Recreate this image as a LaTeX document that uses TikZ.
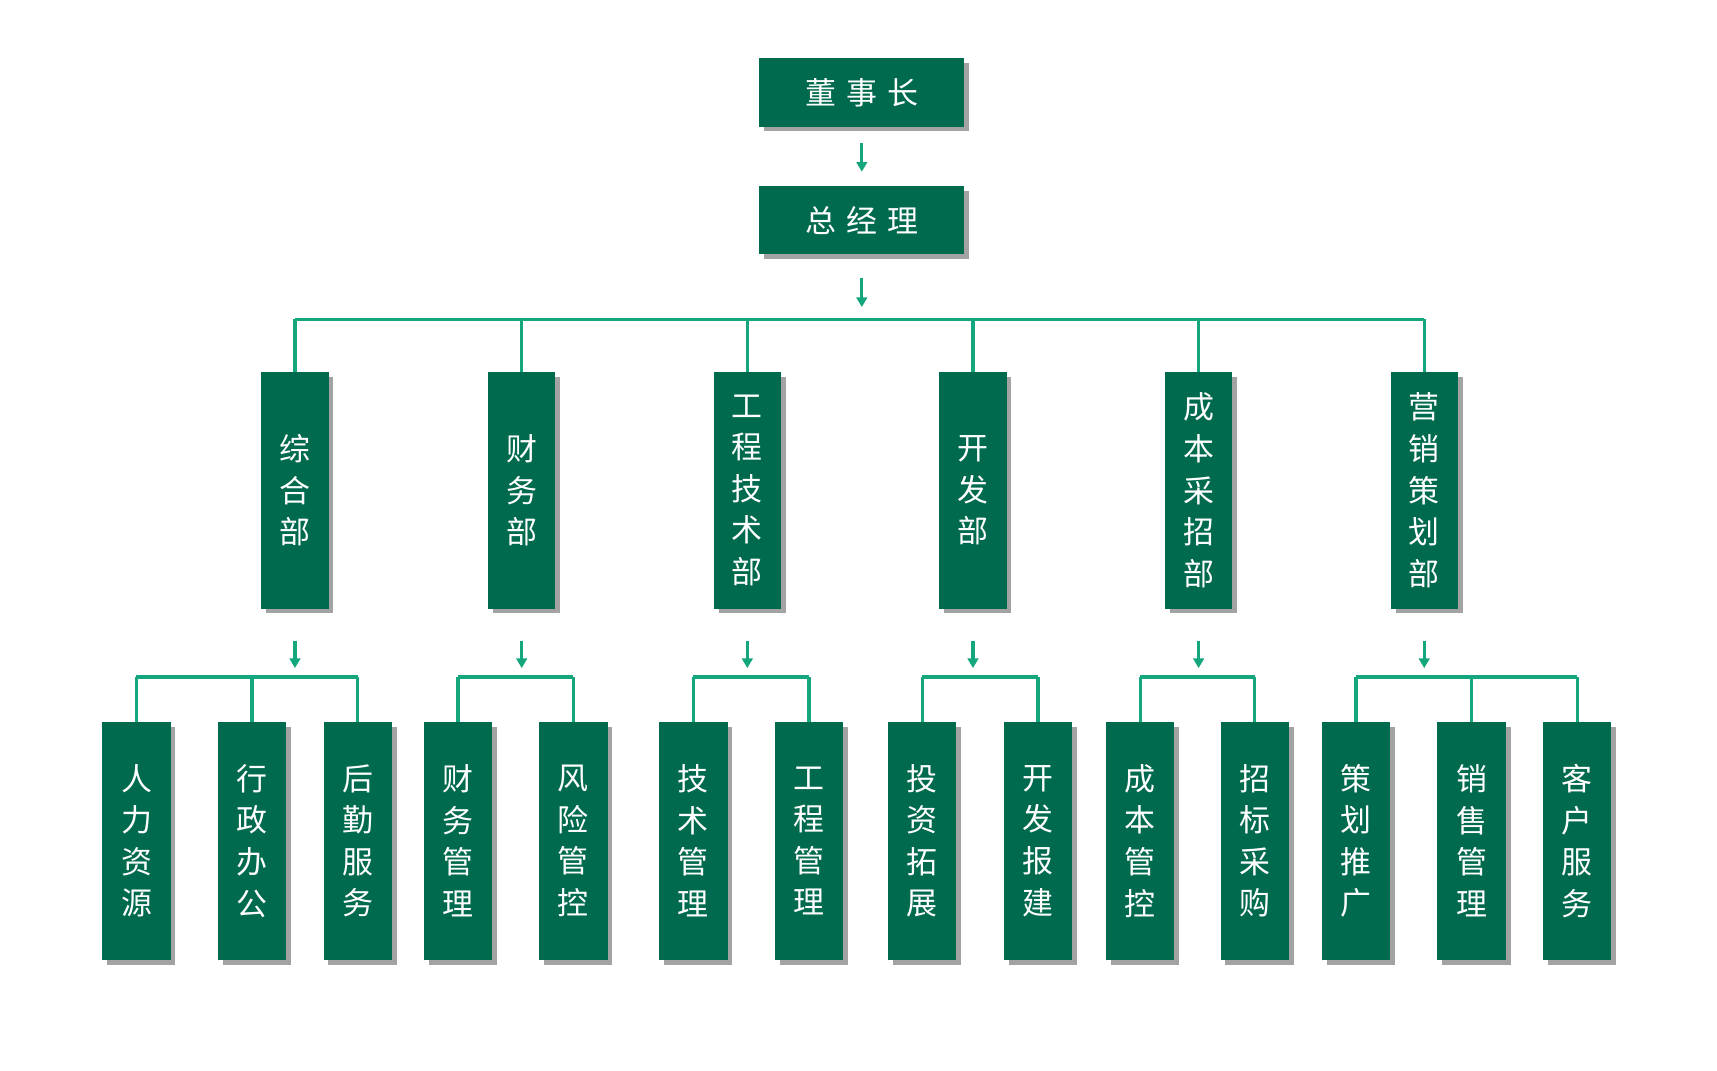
\documentclass[tikz,border=0pt]{standalone}
\usepackage{fontspec}
\setmainfont{Noto Sans CJK SC}
\usetikzlibrary{arrows.meta,shadows}
\definecolor{boxg}{HTML}{006A4E}
\definecolor{lineg}{HTML}{14A67C}
\begin{document}
\begin{tikzpicture}[x=0.02cm,y=-0.02cm,
  box/.style={fill=boxg,text=white,inner sep=0pt,font=\fontsize{16}{21.5}\selectfont,align=center,
    drop shadow={shadow xshift=2.5pt,shadow yshift=-2.5pt,fill=black!45,opacity=0.8}},
  topbox/.style={box,minimum width=186*0.02cm,minimum height=62*0.02cm},
  dept/.style={box,minimum width=61*0.02cm,minimum height=215*0.02cm},
  child/.style={box,minimum width=62*0.02cm,minimum height=216*0.02cm},
  ln/.style={draw=lineg,line width=1.7pt},
  arr/.style={ln,-{Triangle[width=5.5pt,length=5pt]}}]
\useasboundingbox (0,0) rectangle (1560,973);
\node[topbox] (ceo) at (783,84) {董\,\,事\,\,长};
\node[topbox] (gm) at (783,200) {总\,\,经\,\,理};
\coordinate (a1) at (783,130); \coordinate (a2) at (783,156);
\draw[arr] (a1) -- (a2);
\coordinate (b1) at (783,253); \coordinate (b2) at (783,279);
\draw[arr] (b1) -- (b2);
\foreach \n/\x/\t in {d1/268/综\\合\\部, d2/474/财\\务\\部, d3/679/工\\程\\技\\术\\部, d4/884/开\\发\\部, d5/1089/成\\本\\采\\招\\部, d6/1294/营\\销\\策\\划\\部}{
  \node[dept] (\n) at (\x,445.5) {\t};
  \coordinate (\n t) at (\x,290);
  \draw[ln] (\n t) -- (\n.north);
  \coordinate (\n a) at (\x,582); \coordinate (\n b) at (\x,607);
  \draw[arr] (\n a) -- (\n b);
}
\draw[ln] (d1t) -- (d6t);
\foreach \n/\x/\t in {c1/124/人\\力\\资\\源, c2/229/行\\政\\办\\公, c3/325/后\\勤\\服\\务,
  c4/416/财\\务\\管\\理, c5/521/风\\险\\管\\控, c6/630/技\\术\\管\\理, c7/735/工\\程\\管\\理,
  c8/838/投\\资\\拓\\展, c9/943/开\\发\\报\\建, c10/1036/成\\本\\管\\控, c11/1140/招\\标\\采\\购,
  c12/1232/策\\划\\推\\广, c13/1337/销\\售\\管\\理, c14/1433/客\\户\\服\\务}{
  \node[child] (\n) at (\x,764) {\t};
  \coordinate (\n t) at (\x,615);
  \draw[ln] (\n t) -- (\n.north);
}
\draw[ln] (c1t) -- (c3t);
\draw[ln] (c4t) -- (c5t);
\draw[ln] (c6t) -- (c7t);
\draw[ln] (c8t) -- (c9t);
\draw[ln] (c10t) -- (c11t);
\draw[ln] (c12t) -- (c14t);
\end{tikzpicture}
\end{document}
